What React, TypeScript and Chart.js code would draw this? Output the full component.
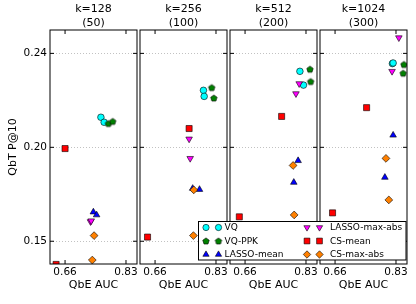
import React, { useEffect, useRef } from 'react';
import { Chart, registerables } from 'chart.js';
import { drawPoint } from 'chart.js/helpers';

Chart.register(...registerables);

// ---------- data ----------
const panelTitles = [
  ['k=128', '(50)'],
  ['k=256', '(100)'],
  ['k=512', '(200)'],
  ['k=1024', '(300)'],
];
const seriesNames = ['VQ', 'VQ-PPK', 'LASSO-mean', 'LASSO-max-abs', 'CS-mean', 'CS-max-abs'];

const xTickValues = [0.66, 0.83];
const xTickLabels = ['0.66', '0.83'];
const yTickValues = [0.155, 0.2, 0.245];
const yTickLabels = ['0.15', '0.20', '0.24'];
const xRange = [0.618, 0.8607];
const yRange = [0.1441, 0.2562];

// QbE AUC per panel (k=128, 256, 512, 1024), two configurations each
const vqAuc = [[0.760, 0.769], [0.795, 0.797], [0.813, 0.823], [0.820, 0.822]];
const vqP10 = [[0.2144, 0.2120], [0.2273, 0.2244], [0.2364, 0.2298], [0.2401, 0.2404]];

const vqPpkAuc = [[0.781, 0.793], [0.818, 0.824], [0.841, 0.843], [0.852, 0.850]];
const vqPpkP10 = [[0.2114, 0.2124], [0.2286, 0.2236], [0.2374, 0.2315], [0.2397, 0.2355]];

const lassoMeanAuc = [[0.739, 0.748], [0.765, 0.784], [0.808, 0.796], [0.822, 0.799]];
const lassoMeanP10 = [[0.1690, 0.1676], [0.1803, 0.1798], [0.1936, 0.1832], [0.2058, 0.1856]];

const lassoMaxAuc = [[0.731, 0.733], [0.755, 0.758], [0.811, 0.802], [0.838, 0.819]];
const lassoMaxP10 = [[0.1644, 0.1648], [0.2040, 0.1947], [0.2305, 0.2257], [0.2525, 0.2364]];

const csMeanAuc = [[0.660, 0.635], [0.755, 0.639], [0.762, 0.644], [0.748, 0.653]];
const csMeanP10 = [[0.1994, 0.1439], [0.2090, 0.1570], [0.2148, 0.1667], [0.2190, 0.1686]];

const csMaxAuc = [[0.741, 0.736], [0.768, 0.767], [0.794, 0.797], [0.802, 0.810]];
const csMaxP10 = [[0.1577, 0.1460], [0.1796, 0.1577], [0.1913, 0.1676], [0.1947, 0.1748]];

const seriesAuc = [vqAuc, vqPpkAuc, lassoMeanAuc, lassoMaxAuc, csMeanAuc, csMaxAuc];
const seriesP10 = [vqP10, vqPpkP10, lassoMeanP10, lassoMaxP10, csMeanP10, csMaxP10];

// ---------- styles ----------
const seriesColors = ['#00ffff', '#008000', '#0000ff', '#ff00ff', '#ff0000', '#ff8000'];
const seriesRadius = [3.3, 3.4, 3.8, 3.8, 4.3, 3.9];
const seriesRotation = [0, 0, 0, 180, 0, 0];

const W = 416;
const H = 304;
const PANEL_LEFT = [50, 140, 230, 320];
const PANEL_W = 87;
const FONT = 'DejaVu Sans';

function makePentagon(color: string, r: number): HTMLCanvasElement {
  const size = Math.ceil(r * 2 + 3);
  const c = document.createElement('canvas');
  c.width = size;
  c.height = size;
  const ctx = c.getContext('2d')!;
  const cx = size / 2;
  const cy = size / 2 + 0.3;
  ctx.beginPath();
  for (let i = 0; i < 5; i++) {
    const a = -Math.PI / 2 + (i * 2 * Math.PI) / 5;
    const px = cx + r * Math.cos(a);
    const py = cy + r * Math.sin(a);
    if (i === 0) ctx.moveTo(px, py);
    else ctx.lineTo(px, py);
  }
  ctx.closePath();
  ctx.fillStyle = color;
  ctx.fill();
  ctx.lineWidth = 0.6;
  ctx.strokeStyle = '#000';
  ctx.stroke();
  return c;
}

const framePlugin = {
  id: 'frameTicks',
  afterDraw(chart: any) {
    const { ctx, chartArea: a, scales } = chart;
    ctx.save();
    ctx.strokeStyle = '#000';
    ctx.lineWidth = 1;
    ctx.beginPath();
    for (const v of xTickValues) {
      const x = scales.x.getPixelForValue(v);
      ctx.moveTo(x, a.bottom);
      ctx.lineTo(x, a.bottom - 4);
      ctx.moveTo(x, a.top);
      ctx.lineTo(x, a.top + 4);
    }
    for (const v of yTickValues) {
      const y = scales.y.getPixelForValue(v);
      ctx.moveTo(a.left, y);
      ctx.lineTo(a.left + 4, y);
      ctx.moveTo(a.right, y);
      ctx.lineTo(a.right - 4, y);
    }
    ctx.stroke();
    ctx.strokeRect(a.left, a.top, a.right - a.left, a.bottom - a.top);
    ctx.restore();
  },
};

function makeLegendPlugin(styles: any[]) {
  return {
    id: 'customLegend',
    afterDraw(chart: any) {
      const ctx = chart.ctx;
      ctx.save();
      const bx = 198.5, by = 221.5, bw = 207.5, bh = 38.5;
      ctx.fillStyle = '#fff';
      ctx.fillRect(bx, by, bw, bh);
      ctx.strokeStyle = '#000';
      ctx.lineWidth = 1;
      ctx.strokeRect(bx, by, bw, bh);
      const rows = [227.5, 241, 254.5];
      const cols = [
        { m1: 206, m2: 218.5, tx: 224.5 },
        { m1: 307, m2: 319.5, tx: 330 },
      ];
      ctx.font = `9px "${FONT}"`;
      ctx.textBaseline = 'middle';
      for (let i = 0; i < seriesNames.length; i++) {
        const col = cols[Math.floor(i / 3)];
        const y = rows[i % 3];
        for (const mx of [col.m1, col.m2]) {
          ctx.fillStyle = seriesColors[i];
          ctx.strokeStyle = '#000';
          ctx.lineWidth = 0.6;
          drawPoint(ctx, {
            pointStyle: styles[i],
            rotation: seriesRotation[i],
            radius: seriesRadius[i] * 0.95,
            borderWidth: 0.6,
          } as any, mx, y);
        }
        ctx.fillStyle = '#000';
        ctx.textAlign = 'left';
        ctx.fillText(seriesNames[i], col.tx, y + 0.5);
      }
      ctx.restore();
    },
  };
}

export default function App() {
  const canvasRefs = useRef<(HTMLCanvasElement | null)[]>([]);

  useEffect(() => {
    Chart.defaults.font.family = FONT;
    Chart.defaults.color = '#000';
    const pentagon = makePentagon(seriesColors[1], seriesRadius[1]);
    const styles: any[] = ['circle', pentagon, 'triangle', 'triangle', 'rect', 'rectRot'];
    const charts: Chart[] = [];

    for (let p = 0; p < 4; p++) {
      const canvas = canvasRefs.current[p];
      if (!canvas) continue;
      const first = p === 0;
      const datasets = seriesNames.map((name, i) => ({
        label: name,
        data: seriesAuc[i][p].map((x, j) => ({ x, y: seriesP10[i][p][j] })),
        pointStyle: styles[i],
        rotation: seriesRotation[i],
        pointRadius: seriesRadius[i],
        pointHoverRadius: seriesRadius[i],
        backgroundColor: seriesColors[i],
        borderColor: '#000',
        borderWidth: 0.6,
        clip: 0,
        order: seriesNames.length - i,
      }));
      const plugins: any[] = [framePlugin];
      if (p === 3) plugins.push(makeLegendPlugin(styles));
      const chart = new Chart(canvas, {
        type: 'scatter',
        data: { datasets },
        options: {
          responsive: false,
          animation: false,
          events: [],
          layout: {
            padding: {
              left: first ? 0 : PANEL_LEFT[p],
              right: W - PANEL_LEFT[p] - PANEL_W,
              top: 0,
              bottom: 0,
            },
          },
          plugins: {
            legend: { display: false },
            tooltip: { enabled: false },
            title: {
              display: true,
              text: panelTitles[p],
              fullSize: false,
              color: '#000',
              font: { size: 11, weight: 'normal', lineHeight: 1.2, family: FONT },
              padding: { top: 3, bottom: 0.6 },
            },
          },
          scales: {
            x: {
              type: 'linear',
              min: xRange[0],
              max: xRange[1],
              afterBuildTicks: (s: any) => {
                s.ticks = xTickValues.map((v) => ({ value: v }));
              },
              afterFit: (s: any) => {
                s.height = 40;
              },
              ticks: {
                callback: (_v: any, i: number) => xTickLabels[i],
                font: { size: 10.5, family: FONT },
                color: '#000',
                padding: 1.5,
                maxRotation: 0,
                autoSkip: false,
              },
              grid: { display: false, drawTicks: false },
              border: { display: false },
              title: {
                display: true,
                text: 'QbE AUC',
                color: '#000',
                font: { size: 11, family: FONT },
                padding: { top: 0, bottom: 12 },
              },
            },
            y: {
              type: 'linear',
              min: yRange[0],
              max: yRange[1],
              afterBuildTicks: (s: any) => {
                s.ticks = yTickValues.map((v) => ({ value: v }));
              },
              afterFit: (s: any) => {
                s.width = first ? 50 : 0;
              },
              ticks: {
                display: first,
                callback: (_v: any, i: number) => yTickLabels[i],
                font: { size: 10.5, family: FONT },
                color: '#000',
                padding: 3,
              },
              grid: { color: 'rgba(0,0,0,0.3)', lineWidth: 0.8, drawTicks: false },
              border: { display: false, dash: [1, 2] },
              title: {
                display: first,
                text: 'QbT P@10',
                color: '#000',
                font: { size: 11, family: FONT },
                padding: { top: 6.4, bottom: 0 },
              },
            },
          },
        } as any,
        plugins,
      });
      charts.push(chart);
    }
    return () => {
      charts.forEach((c) => c.destroy());
    };
  }, []);

  return (
    <div style={{ position: 'fixed', left: 0, top: 0, width: W, height: H, background: '#fff' }}>
      {[0, 1, 2, 3].map((p) => (
        <canvas
          key={p}
          ref={(el) => {
            canvasRefs.current[p] = el;
          }}
          width={W}
          height={H}
          style={{ position: 'absolute', left: 0, top: 0, width: W, height: H }}
        />
      ))}
    </div>
  );
}
